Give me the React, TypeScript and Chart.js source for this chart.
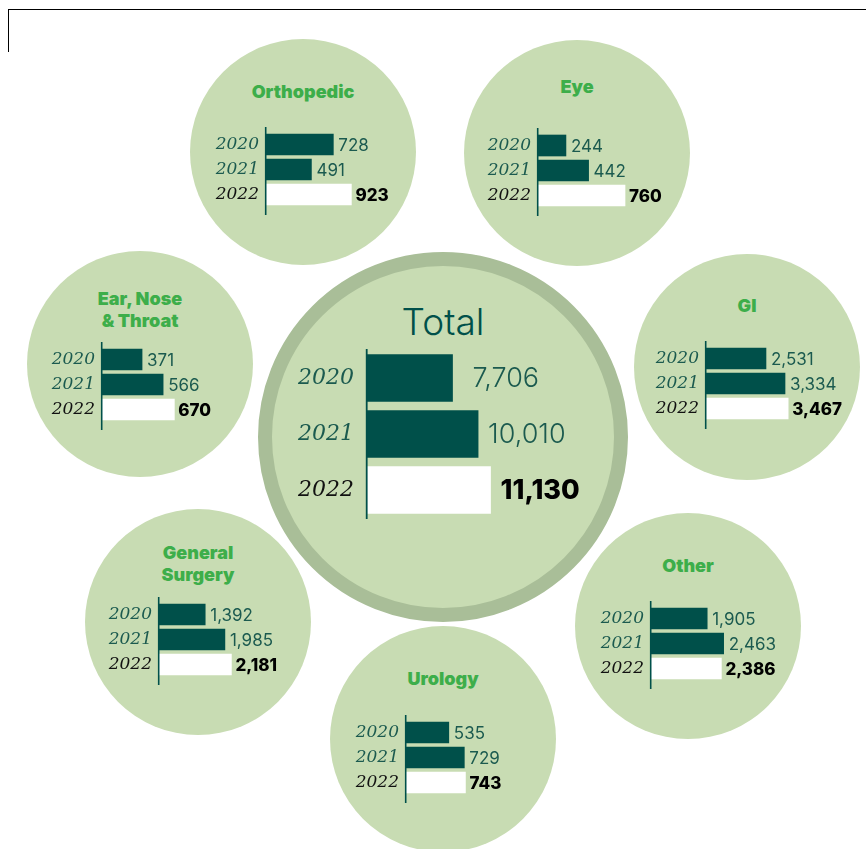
import React, { useEffect, useRef } from 'react';
import { Chart, registerables } from 'chart.js';

Chart.register(...registerables);

// ---- Data ----
const years = ['2020', '2021', '2022'];
const totalValues = [7706, 10010, 11130];
const orthopedicValues = [728, 491, 923];
const eyeValues = [244, 442, 760];
const entValues = [371, 566, 670];
const giValues = [2531, 3334, 3467];
const generalSurgeryValues = [1392, 1985, 2181];
const otherValues = [1905, 2463, 2386];
const urologyValues = [535, 729, 743];

// ---- Styles ----
const CIRCLE_FILL = '#c8dcb3';
const RING = '#a9be98';
const BAR_DARK = '#00504a';
const TEAL_TEXT = '#1b5a4f';
const TITLE_GREEN = '#3dae4a';

type Panel = {
  key: string;
  title: string[];
  values: number[];
  cx: number;
  cy: number;
  r: number;
  titleY: number;
  axisX: number;
  barTop: number;
  pxPerUnit: number;
  big?: boolean;
};

const panels: Panel[] = [
  { key: 'ortho', title: ['Orthopedic'], values: orthopedicValues, cx: 303, cy: 152, r: 113, titleY: 92, axisX: 266, barTop: 134, pxPerUnit: 0.0925 },
  { key: 'eye', title: ['Eye'], values: eyeValues, cx: 577, cy: 153, r: 113, titleY: 87, axisX: 538, barTop: 135, pxPerUnit: 0.1145 },
  { key: 'ent', title: ['Ear, Nose', '& Throat'], values: entValues, cx: 140, cy: 364, r: 113, titleY: 310, axisX: 102, barTop: 349, pxPerUnit: 0.108 },
  { key: 'gi', title: ['GI'], values: giValues, cx: 747, cy: 367, r: 113, titleY: 306, axisX: 706, barTop: 348, pxPerUnit: 0.0237 },
  { key: 'gs', title: ['General', 'Surgery'], values: generalSurgeryValues, cx: 198, cy: 622, r: 113, titleY: 564, axisX: 159, barTop: 604, pxPerUnit: 0.0332 },
  { key: 'other', title: ['Other'], values: otherValues, cx: 688, cy: 626, r: 113, titleY: 566, axisX: 651, barTop: 608, pxPerUnit: 0.0295 },
  { key: 'uro', title: ['Urology'], values: urologyValues, cx: 443, cy: 739, r: 113, titleY: 679, axisX: 406, barTop: 722, pxPerUnit: 0.08 },
];

const totalPanel: Panel = {
  key: 'total', title: ['Total'], values: totalValues, cx: 443, cy: 437, r: 185, titleY: 322, axisX: 367, barTop: 354, pxPerUnit: 0.0111, big: true,
};

const decoPlugin = {
  id: 'panelDeco',
  afterDatasetsDraw(chart: any, _args: any, opts: any) {
    const { ctx, chartArea } = chart;
    const big = !!opts.big;
    ctx.save();
    // axis line
    ctx.strokeStyle = BAR_DARK;
    ctx.lineWidth = big ? 1.8 : 1.6;
    ctx.beginPath();
    ctx.moveTo(chartArea.left - 0.3, chartArea.top - opts.extTop);
    ctx.lineTo(chartArea.left - 0.3, chartArea.bottom + opts.extBot);
    ctx.stroke();
    // value labels
    const meta = chart.getDatasetMeta(0);
    const data = chart.data.datasets[0].data as number[];
    ctx.textBaseline = 'middle';
    ctx.textAlign = 'left';
    meta.data.forEach((bar: any, i: number) => {
      const last = i === data.length - 1;
      const size = big ? 27 : 17;
      ctx.font = last
        ? `800 ${size}px Inter, "DejaVu Sans", sans-serif`
        : `${big ? 300 : 400} ${size}px Inter, "DejaVu Sans", sans-serif`;
      ctx.fillStyle = last ? '#000000' : TEAL_TEXT;
      const gap = big ? (i === 0 ? 20 : 10) : (last ? 4 : 5);
      ctx.fillText(Number(data[i]).toLocaleString('en-US'), bar.x + gap, bar.y + 1);
    });
    ctx.restore();
  },
};

function BarPanel({ p }: { p: Panel }) {
  const ref = useRef<HTMLCanvasElement>(null);
  const big = !!p.big;
  const step = big ? 56 : 25;
  const barH = big ? 47 : 21;
  const LW = big ? 100 : 75;
  const CA = big ? 140 : 130;
  const PR = big ? 115 : 80;
  const extTop = big ? 1 : 5;
  const extBot = big ? 1 : 8;
  const width = LW + CA + PR;
  const height = 3 * step + extTop + extBot;
  const left = p.axisX - LW;
  const top = p.barTop - (step - barH) / 2 - extTop;

  useEffect(() => {
    const canvas = ref.current;
    if (!canvas) return;
    const chart = new Chart(canvas, {
      type: 'bar',
      data: {
        labels: years,
        datasets: [
          {
            data: p.values,
            backgroundColor: [BAR_DARK, BAR_DARK, '#ffffff'],
            borderWidth: 0,
            barThickness: barH,
          },
        ],
      },
      options: {
        animation: false,
        responsive: false,
        maintainAspectRatio: false,
        indexAxis: 'y',
        layout: { padding: { top: extTop, bottom: extBot, left: 0, right: PR } },
        plugins: {
          legend: { display: false },
          tooltip: { enabled: false },
          title: { display: false },
          panelDeco: { big, extTop, extBot },
        } as any,
        scales: {
          x: { display: false, min: 0, max: CA / p.pxPerUnit },
          y: {
            grid: { display: false, drawTicks: false },
            border: { display: false },
            ticks: {
              padding: big ? 13 : 7,
              color: (c: any) => (c.index === 2 ? '#111111' : TEAL_TEXT),
              font: { family: '"DejaVu Serif", serif', style: 'italic', size: big ? 22 : 17 },
            },
            afterFit: (s: any) => {
              s.width = LW;
              s.paddingTop = 0;
              s.paddingBottom = 0;
            },
          },
        },
      },
      plugins: [decoPlugin],
    } as any);
    return () => chart.destroy();
  }, []);

  return (
    <canvas
      ref={ref}
      width={width}
      height={height}
      style={{ position: 'absolute', left, top, width, height }}
    />
  );
}

function Circle({ p }: { p: Panel }) {
  const big = !!p.big;
  return (
    <div
      style={{
        position: 'absolute',
        left: p.cx - p.r,
        top: p.cy - p.r,
        width: p.r * 2,
        height: p.r * 2,
        borderRadius: '50%',
        background: CIRCLE_FILL,
        border: big ? `14px solid ${RING}` : 'none',
        boxSizing: 'border-box',
      }}
    />
  );
}

function Title({ p }: { p: Panel }) {
  const big = !!p.big;
  return (
    <div
      style={{
        position: 'absolute',
        left: p.cx,
        top: p.titleY,
        transform: 'translate(-50%, -50%)',
        textAlign: 'center',
        whiteSpace: 'nowrap',
        fontFamily: 'Inter, "DejaVu Sans", sans-serif',
        fontWeight: big ? 300 : 900,
        fontSize: big ? 37 : 18,
        lineHeight: big ? '44px' : '22px',
        color: big ? BAR_DARK : TITLE_GREEN,
      }}
    >
      {p.title.map((t) => (
        <div key={t}>{t}</div>
      ))}
    </div>
  );
}

export default function App() {
  const all = [...panels, totalPanel];
  return (
    <div
      style={{
        position: 'fixed',
        left: 0,
        top: 0,
        width: 866,
        height: 849,
        overflow: 'hidden',
        background: '#ffffff',
      }}
    >
      <div
        style={{
          position: 'absolute',
          left: 8,
          top: 9,
          width: 870,
          height: 43,
          borderTop: '1.5px solid #000',
          borderLeft: '1.5px solid #000',
          boxSizing: 'border-box',
        }}
      />
      {all.map((p) => (
        <Circle key={'c' + p.key} p={p} />
      ))}
      {all.map((p) => (
        <Title key={'t' + p.key} p={p} />
      ))}
      {all.map((p) => (
        <BarPanel key={'b' + p.key} p={p} />
      ))}
    </div>
  );
}
